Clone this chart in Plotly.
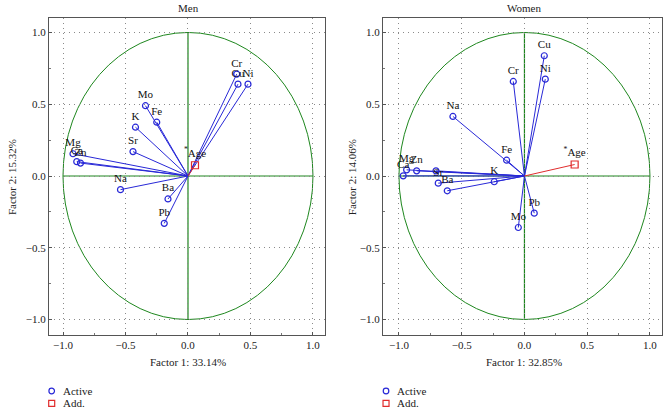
import plotly.graph_objects as go

# ---------------- data ----------------
men_labels = ["Cr", "Cu", "Ni", "Mo", "Fe", "K", "Sr", "Mg", "Ca", "Zn", "Na", "Ba", "Pb"]
men_f1 = [0.39, 0.40, 0.48, -0.34, -0.25, -0.42, -0.44, -0.92, -0.89, -0.86, -0.54, -0.16, -0.19]
men_f2 = [0.71, 0.64, 0.64, 0.49, 0.375, 0.34, 0.17, 0.155, 0.10, 0.09, -0.095, -0.16, -0.33]
men_add_labels = ["<sup>*</sup>Age"]
men_add_f1 = [0.056]
men_add_f2 = [0.075]

women_labels = ["Cu", "Ni", "Cr", "Na", "Fe", "Mg", "Ca", "Zn", "", "Sr", "Ba", "K", "Pb", "Mo"]
women_f1 = [0.158, 0.166, -0.089, -0.57, -0.142, -0.939, -0.966, -0.859, -0.705, -0.687, -0.615, -0.241, 0.078, -0.049]
women_f2 = [0.838, 0.675, 0.659, 0.415, 0.11, 0.043, 0.001, 0.036, 0.036, -0.05, -0.103, -0.04, -0.259, -0.359]
women_add_labels = ["<sup>*</sup>Age"]
women_add_f1 = [0.40]
women_add_f2 = [0.08]

panel_titles = ["Men", "Women"]
x_titles = ["Factor 1: 33.14%", "Factor 1: 32.85%"]
y_titles = ["Factor 2: 15.32%", "Factor 2: 14.06%"]
tick_vals = [-1.0, -0.5, 0.0, 0.5, 1.0]
legend_labels = ["Active", "Add."]

# ---------------- style ----------------
BLUE = "rgb(40,40,215)"
RED = "rgb(225,45,45)"
GREEN = "rgb(30,135,30)"
FONT = "Liberation Serif"

fig = go.Figure()


def rays(xs, ys):
    lx, ly = [], []
    for a, b in zip(xs, ys):
        lx += [0, a, None]
        ly += [0, b, None]
    return lx, ly


def add_panel(xa, ya, labels, f1, f2, alabels, af1, af2):
    lx, ly = rays(f1, f2)
    fig.add_trace(go.Scatter(x=lx, y=ly, mode="lines", line=dict(color=BLUE, width=1),
                             xaxis=xa, yaxis=ya, showlegend=False, hoverinfo="skip"))
    ax_, ay_ = rays(af1, af2)
    fig.add_trace(go.Scatter(x=ax_, y=ay_, mode="lines", line=dict(color=RED, width=1),
                             xaxis=xa, yaxis=ya, showlegend=False, hoverinfo="skip"))
    fig.add_trace(go.Scatter(x=f1, y=f2, mode="markers+text", text=labels,
                             textposition="top center",
                             textfont=dict(family=FONT, size=11, color="#111"),
                             marker=dict(symbol="circle-open", size=6, color=BLUE,
                                         line=dict(width=1.2, color=BLUE)),
                             xaxis=xa, yaxis=ya, showlegend=False))
    fig.add_trace(go.Scatter(x=af1, y=af2, mode="markers+text", text=alabels,
                             textposition="top center",
                             textfont=dict(family=FONT, size=11, color="#111"),
                             marker=dict(symbol="square-open", size=7, color=RED,
                                         line=dict(width=1.2, color=RED)),
                             xaxis=xa, yaxis=ya, showlegend=False))


add_panel("x", "y", men_labels, men_f1, men_f2, men_add_labels, men_add_f1, men_add_f2)
add_panel("x2", "y2", women_labels, women_f1, women_f2, women_add_labels, women_add_f1, women_add_f2)

shapes = []
for xr, yr in (("x", "y"), ("x2", "y2")):
    shapes.append(dict(type="circle", xref=xr, yref=yr, x0=-1, x1=1, y0=-1, y1=1,
                       line=dict(color=GREEN, width=1), layer="below"))
    shapes.append(dict(type="line", xref=xr, yref=yr, x0=0, x1=0, y0=-1, y1=1,
                       line=dict(color=GREEN, width=1.2), layer="below"))
    shapes.append(dict(type="line", xref=xr, yref=yr, x0=-1, x1=1, y0=0, y1=0,
                       line=dict(color=GREEN, width=1.2), layer="below"))

# legend symbols (paper, pixel-sized)
for lx in (0.0044, 0.5498):
    shapes.append(dict(type="circle", xref="paper", yref="paper", xsizemode="pixel",
                       ysizemode="pixel", xanchor=lx, yanchor=-0.1767,
                       x0=-2.8, x1=2.8, y0=-2.8, y1=2.8, line=dict(color=BLUE, width=1.2)))
    shapes.append(dict(type="rect", xref="paper", yref="paper", xsizemode="pixel",
                       ysizemode="pixel", xanchor=lx, yanchor=-0.2155,
                       x0=-3, x1=3, y0=-3, y1=3, line=dict(color=RED, width=1.2)))

annotations = []
tfont = dict(family=FONT, size=11, color="#222")
for cx, t in zip((0.2268, 0.775), panel_titles):
    annotations.append(dict(x=cx, y=1.0315, xref="paper", yref="paper", text=t,
                            showarrow=False, font=tfont, xanchor="center", yanchor="middle"))
for cx, t in zip((0.2268, 0.775), x_titles):
    annotations.append(dict(x=cx, y=-0.085, xref="paper", yref="paper", text=t,
                            showarrow=False, font=tfont, xanchor="center", yanchor="middle"))
for cx, t in zip((-0.0604, 0.4943), y_titles):
    annotations.append(dict(x=cx, y=0.498, xref="paper", yref="paper", text=t, textangle=-90,
                            showarrow=False, font=tfont, xanchor="center", yanchor="middle"))
for lx in (0.0191, 0.5644):
    annotations.append(dict(x=lx, y=-0.1767, xref="paper", yref="paper", text=legend_labels[0],
                            showarrow=False, font=tfont, xanchor="left", yanchor="middle"))
    annotations.append(dict(x=lx, y=-0.2155, xref="paper", yref="paper", text=legend_labels[1],
                            showarrow=False, font=tfont, xanchor="left", yanchor="middle"))

axis_common = dict(showline=True, mirror=True, linecolor="#555", linewidth=1,
                   tickvals=tick_vals, tickformat=".1f", ticks="inside", ticklen=3,
                   tickcolor="#555", showgrid=True, gridcolor="#8a8a8a", griddash="1px,4px",
                   gridwidth=1, zeroline=False, automargin=False,
                   tickfont=dict(family=FONT, size=11, color="#222"),
                   minor=dict(tickvals=[-0.75, -0.25, 0.25, 0.75], ticks="inside", ticklen=2,
                              tickcolor="#777", showgrid=False))

fig.update_layout(
    width=670, height=416,
    margin=dict(l=49, r=8, t=18, b=81, autoexpand=False),
    paper_bgcolor="white", plot_bgcolor="white",
    showlegend=False,
    hovermode=False,
    xaxis=dict(domain=[0, 0.4502], range=[-1.112, 1.096], anchor="y", **axis_common),
    yaxis=dict(domain=[0, 1], range=[-1.108, 1.101], anchor="x", **axis_common),
    xaxis2=dict(domain=[0.5449, 1], range=[-1.127, 1.096], anchor="y2", **axis_common),
    yaxis2=dict(domain=[0, 1], range=[-1.108, 1.101], anchor="x2", **axis_common),
    shapes=shapes,
    annotations=annotations,
)

# remove the browser's default 8px page margin so the figure sits at the window's corner
fig.write_html("out.html", config={"displayModeBar": False},
               post_script="document.body.style.margin='0';")
